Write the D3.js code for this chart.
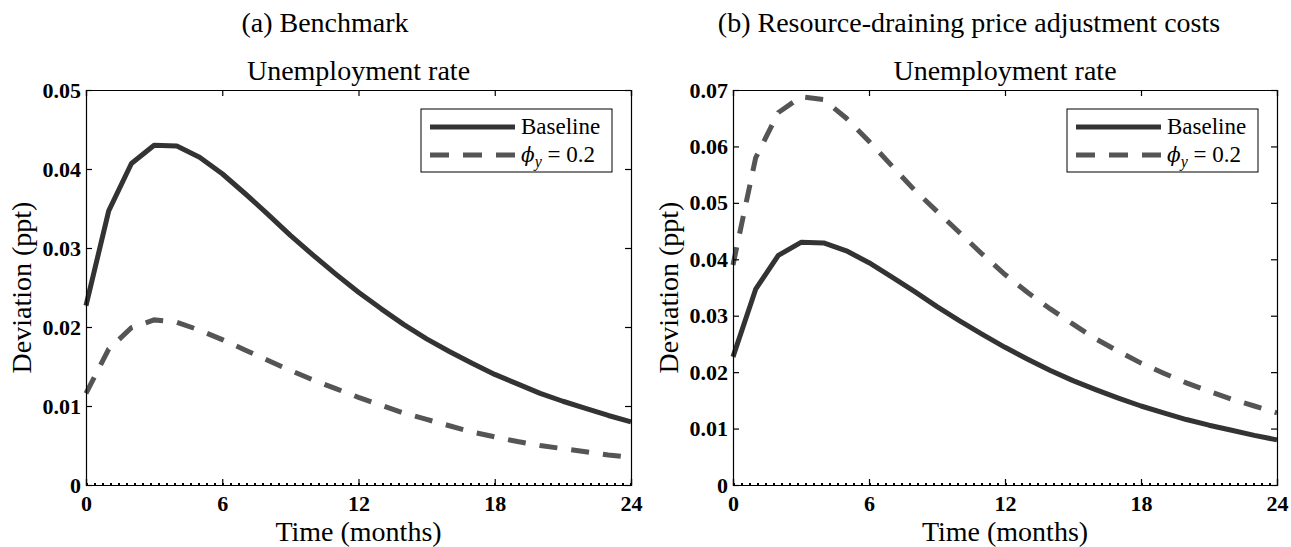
<!DOCTYPE html>
<html>
<head>
<meta charset="utf-8">
<script src="https://cdn.jsdelivr.net/npm/d3@7"></script>
<style>
  html, body { margin: 0; padding: 0; background: #fff; }
</style>
</head>
<body>
<svg id="fig" width="1291" height="547" font-family="Liberation Serif"></svg>
<script>
// Impulse responses of the unemployment rate, monthly horizon 0..24
const months = [0,1,2,3,4,5,6,7,8,9,10,11,12,13,14,15,16,17,18,19,20,21,22,23,24];

const baseline = [0.0227,0.0347,0.0407,0.0430,0.0429,0.0415,0.0394,0.0369,0.0343,0.0316,
                  0.0291,0.0267,0.0244,0.0223,0.0203,0.0185,0.0169,0.0154,0.0140,0.0128,
                  0.0116,0.0106,0.0097,0.0088,0.0080];

const phiBenchmark = [0.0116,0.0172,0.0199,0.0209,0.0206,0.0196,0.0184,0.0171,0.0158,0.0145,
                      0.0133,0.0122,0.0111,0.0101,0.0091,0.0083,0.0075,0.0067,0.0061,0.0055,
                      0.0050,0.0046,0.0042,0.0038,0.0035];

const phiResource = [0.0390,0.0580,0.0660,0.0688,0.0683,0.0650,0.0609,0.0566,0.0523,0.0485,
                     0.0447,0.0409,0.0373,0.0341,0.0312,0.0285,0.0259,0.0237,0.0216,0.0198,
                     0.0181,0.0166,0.0152,0.0140,0.0128];

const xTicks = [0, 6, 12, 18, 24];
const yTicksA = [0, 0.01, 0.02, 0.03, 0.04, 0.05];
const yTicksB = [0, 0.01, 0.02, 0.03, 0.04, 0.05, 0.06, 0.07];

const panelTitles = ["(a) Benchmark", "(b) Resource-draining price adjustment costs"];
const subTitle = "Unemployment rate";
const xLabel = "Time (months)";
const yLabel = "Deviation (ppt)";
const legendLabels = ["Baseline", "\u03D5", "y", " = 0.2"];

const SERIF = "Liberation Serif";
const svg = d3.select("#fig");

const colSolid = "#333333";
const colDash = "#555555";

function label(sel, x, y, size, txt) {
  return sel.append("text").attr("x", x).attr("y", y)
    .attr("font-family", SERIF).attr("font-size", size).attr("fill", "#000")
    .attr("text-anchor", "middle").text(txt);
}

function drawPanel(opt) {
  const { left, right, top, bottom, yMax, yTicks, dashed, title, titleX } = opt;
  const x = d3.scaleLinear().domain([0, 24]).range([left, right]);
  const y = d3.scaleLinear().domain([0, yMax]).range([bottom, top]);
  const g = svg.append("g");

  // panel heading and axes title
  label(g, titleX, 32, 28, title);
  label(g, (left + right) / 2, 80, 28, subTitle);

  // data lines
  const line = d3.line().x((d, i) => x(months[i])).y(d => y(d));
  g.append("path").datum(dashed)
    .attr("d", line).attr("fill", "none")
    .attr("stroke", colDash).attr("stroke-width", 5)
    .attr("stroke-dasharray", "18,14");
  g.append("path").datum(baseline)
    .attr("d", line).attr("fill", "none")
    .attr("stroke", colSolid).attr("stroke-width", 5)
    .attr("stroke-linejoin", "round");

  // dotted zero line
  g.append("line")
    .attr("x1", x(0)).attr("x2", x(24))
    .attr("y1", y(0) - 1).attr("y2", y(0) - 1)
    .attr("stroke", "#000").attr("stroke-width", 2)
    .attr("stroke-dasharray", "2,6");

  // box axes with inward ticks
  const fmt = d => d === 0 ? "0" : d3.format(".2f")(d);
  const axL = d3.axisLeft(y).tickValues(yTicks).tickSize(-6).tickPadding(5).tickFormat(fmt);
  const axR = d3.axisRight(y).tickValues(yTicks).tickSize(-6).tickFormat("");
  const axB = d3.axisBottom(x).tickValues(xTicks).tickSize(-6).tickPadding(10);
  const axT = d3.axisTop(x).tickValues(xTicks).tickSize(-6).tickFormat("");

  const gl = g.append("g").attr("transform", `translate(${left},0)`).call(axL);
  const gr = g.append("g").attr("transform", `translate(${right},0)`).call(axR);
  const gb = g.append("g").attr("transform", `translate(0,${bottom})`).call(axB);
  const gt = g.append("g").attr("transform", `translate(0,${top})`).call(axT);
  [gl, gr, gb, gt].forEach(a => {
    a.attr("font-family", SERIF).attr("font-size", 22);
    a.selectAll(".domain").attr("stroke", "#000").attr("stroke-width", 1.2);
    a.selectAll(".tick line").attr("stroke", "#000").attr("stroke-width", 1.2);
    a.selectAll(".tick text")
      .attr("font-family", SERIF).attr("font-size", 22)
      .attr("font-weight", "bold").attr("fill", "#000");
  });
  gl.selectAll(".tick text").attr("dy", "0.32em");
  gb.selectAll(".tick text").attr("dy", "0.71em");

  // axis labels
  label(g, (left + right) / 2, 541, 28, xLabel);
  label(g, 0, 0, 28, yLabel)
    .attr("transform", `translate(${left - 55},${(top + bottom) / 2}) rotate(-90)`);

  // legend
  const bw = 191, bh = 63;
  const bx = right - 19 - bw, by = top + 19;
  const lg = g.append("g");
  lg.append("rect").attr("x", bx).attr("y", by).attr("width", bw).attr("height", bh)
    .attr("fill", "#fff").attr("stroke", "#000").attr("stroke-width", 1);
  lg.append("line").attr("x1", bx + 9).attr("x2", bx + 94)
    .attr("y1", by + 18).attr("y2", by + 18)
    .attr("stroke", colSolid).attr("stroke-width", 5);
  lg.append("line").attr("x1", bx + 9).attr("x2", bx + 94)
    .attr("y1", by + 46).attr("y2", by + 46)
    .attr("stroke", colDash).attr("stroke-width", 5)
    .attr("stroke-dasharray", "19,14");
  lg.append("text").attr("x", bx + 100).attr("y", by + 25)
    .attr("font-family", SERIF).attr("font-size", 23).attr("fill", "#000")
    .text(legendLabels[0]);
  const t2 = lg.append("text").attr("x", bx + 100).attr("y", by + 53)
    .attr("font-family", SERIF).attr("font-size", 23).attr("fill", "#000");
  t2.append("tspan").attr("font-style", "italic")
    .attr("font-family", "DejaVu Serif").attr("font-size", 20).text(legendLabels[1]);
  t2.append("tspan").attr("font-style", "italic").attr("font-size", 16)
    .attr("dy", 5).text(legendLabels[2]);
  t2.append("tspan").attr("dy", -5).text(legendLabels[3]);
}

drawPanel({ left: 86, right: 631, top: 90, bottom: 485, yMax: 0.05, yTicks: yTicksA,
            dashed: phiBenchmark, title: panelTitles[0], titleX: 325 });
drawPanel({ left: 733, right: 1277, top: 90, bottom: 485, yMax: 0.07, yTicks: yTicksB,
            dashed: phiResource, title: panelTitles[1], titleX: 969 });
</script>
</body>
</html>
